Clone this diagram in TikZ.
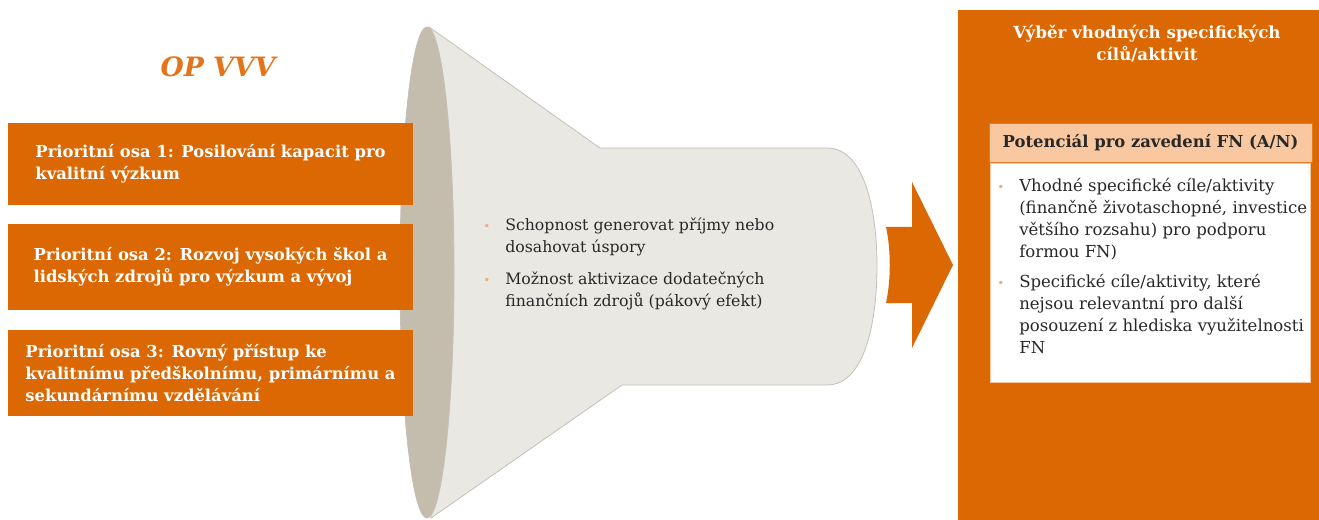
\documentclass[tikz,border=0pt]{standalone}
\usepackage{fontspec}
\setmainfont{DejaVu Serif}

\definecolor{pwcorange}{RGB}{220,104,3}
\definecolor{titleorange}{RGB}{228,116,26}
\definecolor{peach}{RGB}{249,200,160}
\definecolor{rimgray}{RGB}{196,188,172}
\definecolor{bodygray}{RGB}{234,232,227}
\definecolor{edgegray}{RGB}{196,192,184}
\definecolor{darktext}{RGB}{40,40,40}
\definecolor{bulletpeach}{RGB}{238,176,130}

\newcommand{\puntino}{\makebox[16.5pt][l]{\textcolor{bulletpeach}{\small\textbullet}}}
\newcommand{\rientro}{\makebox[16.5pt]{}}

\begin{document}
\begin{tikzpicture}[x=0.75pt,y=-0.75pt,
    osabox/.style={fill=pwcorange, text=white, align=left, inner sep=0pt,
        font=\fontsize{12.3}{16.5}\selectfont\bfseries, minimum width=303.75pt},
    bodytext/.style={text=darktext, align=left, inner sep=0pt, anchor=north west}]

    % Sfondo
    \useasboundingbox[fill=white] (0,0) rectangle (1319,520);

    % Imbuto
    \filldraw[fill=bodygray, draw=edgegray, line width=0.6pt]
        (429,27) -- (600,148) -- (827,148)
        .. controls (866,148) and (877,215) .. (877,266)
        .. controls (877,318) and (866,385) .. (827,385)
        -- (622,385) -- (431,518) -- cycle;
    \filldraw[fill=rimgray, draw=edgegray, line width=0.6pt]
        (427,272.5) ellipse [x radius=27, y radius=245.5];

    % Titolo
    \node[text=titleorange, font=\fontsize{20}{24}\selectfont\bfseries\itshape] (titolo) at (218,67) {OP VVV};

    % Assi prioritari
    \node[osabox, minimum height=62pt] (osa1) at (210.5,164)
        {Prioritní osa 1: Posilování kapacit pro\\kvalitní výzkum};
    \node[osabox, minimum height=64.5pt] (osa2) at (210.5,267)
        {Prioritní osa 2: Rozvoj vysokých škol a\\lidských zdrojů pro výzkum a vývoj};
    \node[osabox, minimum height=64.5pt] (osa3) at (210.5,373)
        {Prioritní osa 3: Rovný přístup ke\\kvalitnímu předškolnímu, primárnímu a\\sekundárnímu vzdělávání};

    % Criteri nell'imbuto
    \node[bodytext, font=\fontsize{11.8}{16.5}\selectfont] (criteri) at (483,218)
        {\puntino Schopnost generovat příjmy nebo\\
         \rientro dosahovat úspory\\[7.5pt]
         \puntino Možnost aktivizace dodatečných\\
         \rientro finančních zdrojů (pákový efekt)};

    % Freccia
    \fill[pwcorange] (886,227) -- (912,227) -- (912,182) -- (953,265)
        -- (912,348) -- (912,303) -- (886,303)
        .. controls (891,280) and (891,250) .. cycle;

    % Pannello di destra
    \node[fill=pwcorange, inner sep=0pt, minimum width=270.75pt, minimum height=382.5pt] (pannello) at (1138.5,265) {};
    \node[text=white, align=center, font=\fontsize{12.5}{16.5}\selectfont\bfseries] (vyber) at (1147,44)
        {Výběr vhodných specifických\\cílů/aktivit};
    \node[fill=peach, draw=pwcorange!80!peach, line width=0.6pt, inner sep=0pt,
        minimum width=242.25pt, minimum height=29.25pt, text=darktext,
        font=\fontsize{12.3}{14}\selectfont\bfseries] (potencial) at (1150.5,142.5)
        {Potenciál pro zavedení FN (A/N)};
    \node[fill=white, draw=peach, inner sep=0pt, minimum width=240pt, minimum height=164.25pt] (vysledek) at (1150,272.5) {};
    \node[bodytext, font=\fontsize{12.4}{16.5}\selectfont] (polozky) at (997,178)
        {\puntino Vhodné specifické cíle/aktivity\\
         \rientro (finančně životaschopné, investice\\
         \rientro většího rozsahu) pro podporu\\
         \rientro formou FN)\\[6pt]
         \puntino Specifické cíle/aktivity, které\\
         \rientro nejsou relevantní pro další\\
         \rientro posouzení z hlediska využitelnosti\\
         \rientro FN};
\end{tikzpicture}
\end{document}
